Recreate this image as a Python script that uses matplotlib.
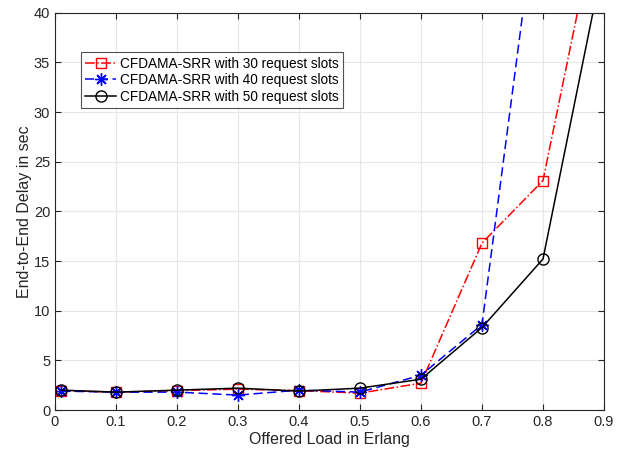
import numpy as np
import matplotlib.pyplot as plt

plt.rcParams['font.family'] = ['Liberation Sans', 'DejaVu Sans']

# Offered load (Erlang)
load = [0.01, 0.1, 0.2, 0.3, 0.4, 0.5, 0.6, 0.7, 0.8, 0.9]

# End-to-end delay (sec)
delay_30 = [1.95, 1.8, 1.95, 2.1, 1.95, 1.7, 2.7, 16.8, 23.1, 53.0]
delay_40 = [1.9, 1.8, 1.8, 1.5, 2.0, 1.8, 3.5, 8.6, 55.5, 95.0]
delay_50 = [2.0, 1.8, 2.0, 2.2, 1.9, 2.2, 3.1, 8.3, 15.2, 45.5]

labels = ['CFDAMA-SRR with 30 request slots',
          'CFDAMA-SRR with 40 request slots',
          'CFDAMA-SRR with 50 request slots']

fig = plt.figure(figsize=(6.3, 4.58), dpi=100)
ax = fig.add_axes([0.0873, 0.1048, 0.8714, 0.8675])

ax.plot(load, delay_30, 'r-.', marker='s', markersize=6.5, markerfacecolor='none',
        markeredgewidth=1.0, linewidth=1.1, label=labels[0])
ax.plot(load, delay_40, 'b--', marker=(8, 2, 0), markersize=9, markerfacecolor='none',
        markeredgewidth=1.0, linewidth=1.1, label=labels[1], dashes=(6, 3))
ax.plot(load, delay_50, 'k-', marker='o', markersize=8, markerfacecolor='none',
        markeredgewidth=1.0, linewidth=1.1, label=labels[2])

ax.set_xlim(0, 0.9)
ax.set_ylim(0, 40)
ax.set_xticks(np.arange(0, 0.91, 0.1))
ax.set_xticklabels(['0', '0.1', '0.2', '0.3', '0.4', '0.5', '0.6', '0.7', '0.8', '0.9'])
ax.set_yticks(np.arange(0, 41, 5))

ax.grid(True, color='#e6e6e6', linewidth=0.8)
ax.set_axisbelow(True)
ax.tick_params(direction='in', top=True, right=True, labelsize=10.5,
               colors='#262626', length=4)
for s in ax.spines.values():
    s.set_color('#262626')
    s.set_linewidth(0.8)

ax.set_xlabel('Offered Load in Erlang', fontsize=11.5, color='#262626', labelpad=2)
ax.set_ylabel('End-to-End Delay in sec', fontsize=11.5, color='#262626', labelpad=1)

leg = ax.legend(loc='upper left', bbox_to_anchor=(0.047, 0.90), fontsize=9.8,
                frameon=True, fancybox=False, edgecolor='#262626',
                handlelength=2.3, handletextpad=0.3, borderpad=0.3,
                labelspacing=0.2, borderaxespad=0)
leg.get_frame().set_linewidth(0.8)

fig.savefig('out.png', dpi=100)
